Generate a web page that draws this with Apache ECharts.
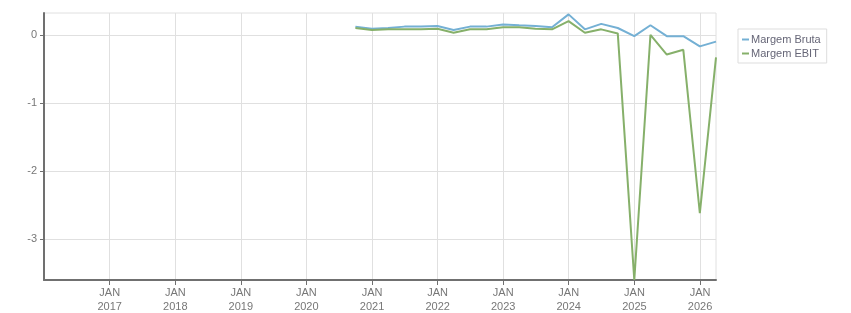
<!DOCTYPE html>
<html>
<head>
<meta charset="utf-8">
<script src="https://cdn.jsdelivr.net/npm/echarts@6/dist/echarts.min.js"></script>
<style>
html,body{margin:0;padding:0;background:#fff;}
#chart{width:851px;height:313px;}
</style>
</head>
<body>
<div id="chart"></div>
<script>
// quarter-end dates
var dates = ['2020-09-30','2020-12-31','2021-03-31','2021-06-30','2021-09-30','2021-12-31',
  '2022-03-31','2022-06-30','2022-09-30','2022-12-31','2023-03-31','2023-06-30',
  '2023-09-30','2023-12-31','2024-03-31','2024-06-30','2024-09-30','2024-12-31',
  '2025-03-31','2025-06-30','2025-09-30','2025-12-31','2026-03-31'];
var margemBruta = [0.12,0.09,0.10,0.12,0.12,0.13,0.07,0.12,0.12,0.15,0.14,0.13,
  0.11,0.30,0.08,0.16,0.10,-0.02,0.14,-0.02,-0.02,-0.17,-0.10];
var margemEbit = [0.10,0.07,0.08,0.08,0.08,0.09,0.03,0.08,0.08,0.11,0.11,0.09,
  0.08,0.20,0.03,0.08,0.02,-3.60,0.00,-0.29,-0.22,-2.62,-0.33];
var yTicks = [0,-1,-2,-3];
var yearTicks = [2017,2018,2019,2020,2021,2022,2023,2024,2025,2026];

function ts(d) { return Date.UTC(+d.slice(0,4), +d.slice(5,7) - 1, +d.slice(8,10)); }
var xTicks = yearTicks.map(function (y) { return Date.UTC(y, 0, 1); });

function pairs(vals) {
  return dates.map(function (d, i) { return [ts(d), vals[i]]; });
}

var myChart = echarts.init(document.getElementById('chart'));
var option = {
  animation: false,
  grid: {
    left: 44, right: 135, top: 13, bottom: 33,
    outerBoundsMode: 'none', containLabel: false,
    show: true, borderColor: '#e0e0e0', borderWidth: 1
  },
  legend: {
    orient: 'vertical',
    left: 738, top: 29,
    padding: [5, 6, 4, 4],
    itemGap: 3,
    borderColor: '#dddddd', borderWidth: 1,
    icon: 'rect', itemWidth: 7, itemHeight: 2,
    textStyle: { color: '#666677', fontSize: 11, fontFamily: 'Liberation Sans, Arial', padding: [0, 0, 0, -3] },
    data: ['Margem Bruta', 'Margem EBIT']
  },
  xAxis: {
    type: 'value',
    min: ts('2016-01-01'),
    max: ts('2026-03-31'),
    axisLine: { onZero: false, lineStyle: { color: '#707070', width: 2 } },
    axisTick: { customValues: xTicks, length: 5, lineStyle: { color: '#707070' } },
    axisLabel: {
      customValues: xTicks,
      color: '#777777', fontSize: 11, fontFamily: 'Liberation Sans, Arial', lineHeight: 14,
      margin: 6,
      formatter: function (v) { return 'JAN\n' + new Date(v).getUTCFullYear(); }
    },
    splitLine: { show: true, lineStyle: { color: '#e0e0e0' } }
  },
  yAxis: {
    type: 'value',
    min: -3.6,
    max: 0.32,
    axisLine: { show: true, onZero: false, lineStyle: { color: '#707070', width: 2 } },
    axisTick: { show: true, customValues: yTicks, length: 4, lineStyle: { color: '#707070' } },
    axisLabel: { customValues: yTicks, color: '#777777', fontSize: 11, fontFamily: 'Liberation Sans, Arial', margin: 7 },
    splitLine: { show: true, lineStyle: { color: '#e0e0e0' } }
  },
  series: [
    {
      name: 'Margem Bruta', type: 'line', data: pairs(margemBruta),
      showSymbol: false, color: '#74b0d4', lineStyle: { width: 2 }
    },
    {
      name: 'Margem EBIT', type: 'line', data: pairs(margemEbit),
      showSymbol: false, color: '#86b06a', lineStyle: { width: 2 }
    }
  ]
};
myChart.setOption(option);
</script>
</body>
</html>
